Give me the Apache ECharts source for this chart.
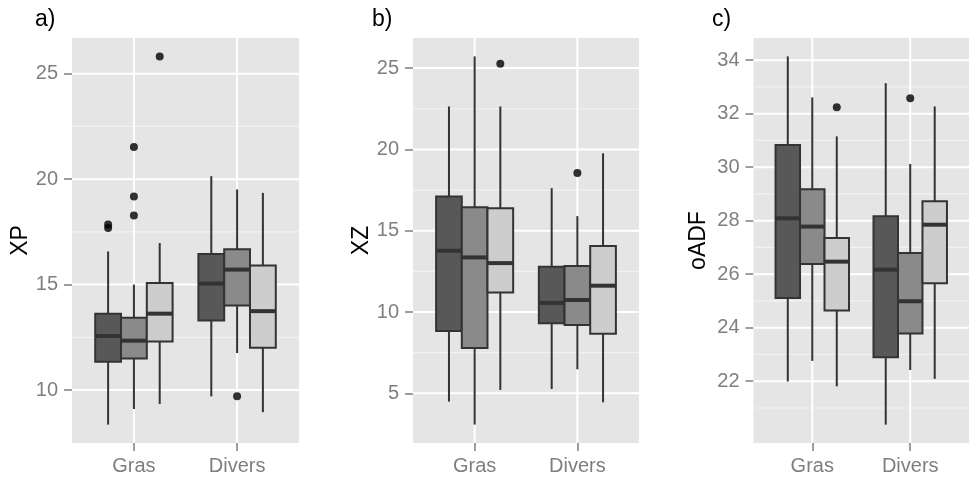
<!DOCTYPE html>
<html>
<head>
<meta charset="utf-8">
<script src="https://cdn.jsdelivr.net/npm/echarts@6/dist/echarts.min.js"></script>
<style>
html,body{margin:0;padding:0;background:#fff;}
#chart{width:969px;height:479px;}
</style>
</head>
<body>
<div id="chart"></div>
<script>
// ---------- data ----------
const categories = ['Gras', 'Divers'];
const groupColors = ['#585858', '#8A8A8A', '#CDCDCD'];

// stats per category: [min, q1, median, q3, max]
const xpDark  = [[8.36, 11.34, 12.56, 13.62, 16.57], [9.70, 13.30, 15.05, 16.45, 20.14]];
const xpMid   = [[9.10, 11.49, 12.34, 13.43, 15.00], [11.75, 14.01, 15.71, 16.68, 19.51]];
const xpLight = [[9.34, 12.30, 13.62, 15.08, 16.97], [8.95, 12.00, 13.74, 15.90, 19.35]];
// outliers: [categoryIndex, groupIndex, value]
const xpOutliers = [[0, 0, 17.85], [0, 0, 17.68], [0, 1, 21.52], [0, 1, 19.18], [0, 1, 18.27], [0, 2, 25.82], [1, 1, 9.70]];
const xpTicks = [10, 15, 20, 25];
const xpMinor = [12.5, 17.5, 22.5];

const xzDark  = [[4.49, 8.84, 13.77, 17.11, 22.64], [5.27, 9.31, 10.56, 12.79, 17.62]];
const xzMid   = [[3.08, 7.79, 13.36, 16.44, 25.72], [6.48, 9.20, 10.74, 12.83, 15.90]];
const xzLight = [[5.21, 11.21, 13.01, 16.39, 22.64], [4.45, 8.67, 11.62, 14.06, 19.76]];
const xzOutliers = [[0, 2, 25.27], [1, 1, 18.55]];
const xzTicks = [5, 10, 15, 20, 25];
const xzMinor = [7.5, 12.5, 17.5, 22.5];

const adfDark  = [[21.99, 25.11, 28.09, 30.83, 34.14], [20.38, 22.90, 26.17, 28.17, 33.14]];
const adfMid   = [[22.76, 26.38, 27.78, 29.18, 32.61], [22.42, 23.78, 24.99, 26.79, 30.12]];
const adfLight = [[21.81, 24.64, 26.47, 27.35, 31.15], [22.09, 25.66, 27.85, 28.73, 32.27]];
const adfOutliers = [[0, 2, 32.24], [1, 1, 32.58]];
const adfTicks = [22, 24, 26, 28, 30, 32, 34];
const adfMinor = [21, 23, 25, 27, 29, 31, 33];

const panelTitles = ['a)', 'b)', 'c)'];
const yNames = ['XP', 'XZ', 'oADF'];

// ---------- layout ----------
const panels = [
  {groups: [xpDark, xpMid, xpLight], outliers: xpOutliers, ticks: xpTicks, minor: xpMinor,
   grid: {left: 72, top: 38, width: 227, height: 405}, titleLeft: 35, nameGap: 40},
  {groups: [xzDark, xzMid, xzLight], outliers: xzOutliers, ticks: xzTicks, minor: xzMinor,
   grid: {left: 413, top: 38, width: 226, height: 405}, titleLeft: 372, nameGap: 40},
  {groups: [adfDark, adfMid, adfLight], outliers: adfOutliers, ticks: adfTicks, minor: adfMinor,
   grid: {left: 753.5, top: 38, width: 227, height: 405}, titleLeft: 712, nameGap: 43}
];

const DODGE = 0.25;
const FONT = 'Liberation Sans, Arial, Helvetica, sans-serif';
const LINE = '#333333';

function groupX(cat, g) { return cat + 1 + (g - 1) * DODGE; }

function renderBox(params, api) {
  const x = api.value(0);
  const half = DODGE / 2;
  const pMin = api.coord([x, api.value(1)]);
  const pQ1 = api.coord([x, api.value(2)]);
  const pMed = api.coord([x, api.value(3)]);
  const pQ3 = api.coord([x, api.value(4)]);
  const pMax = api.coord([x, api.value(5)]);
  const xl = api.coord([x - half, api.value(3)])[0];
  const xr = api.coord([x + half, api.value(3)])[0];
  const fill = api.visual('color');
  return {
    type: 'group',
    children: [
      {type: 'line', shape: {x1: pQ3[0], y1: pQ3[1], x2: pMax[0], y2: pMax[1]}, style: {stroke: LINE, lineWidth: 2}},
      {type: 'line', shape: {x1: pQ1[0], y1: pQ1[1], x2: pMin[0], y2: pMin[1]}, style: {stroke: LINE, lineWidth: 2}},
      {type: 'rect', shape: {x: xl, y: pQ3[1], width: xr - xl, height: pQ1[1] - pQ3[1]}, style: {fill: fill, stroke: LINE, lineWidth: 2}},
      {type: 'line', shape: {x1: xl, y1: pMed[1], x2: xr, y2: pMed[1]}, style: {stroke: LINE, lineWidth: 4}}
    ]
  };
}

function renderHLine(params, api) {
  const cs = params.coordSys;
  const y = api.coord([1, api.value(1)])[1];
  const major = api.value(2) === 1;
  return {type: 'line', shape: {x1: cs.x, y1: y, x2: cs.x + cs.width, y2: y},
          style: {stroke: major ? '#FFFFFF' : '#F2F2F2', lineWidth: major ? 2 : 1.2}};
}
function renderVLine(params, api) {
  const cs = params.coordSys;
  const x = api.coord([api.value(0), api.value(1)])[0];
  return {type: 'line', shape: {x1: x, y1: cs.y, x2: x, y2: cs.y + cs.height},
          style: {stroke: '#FFFFFF', lineWidth: 2}};
}

const option = {animation: false, title: [], grid: [], xAxis: [], yAxis: [], series: []};

panels.forEach((p, i) => {
  // extent like ggplot: data range expanded by 5%
  let lo = Infinity, hi = -Infinity;
  p.groups.forEach(g => g.forEach(s => { lo = Math.min(lo, s[0]); hi = Math.max(hi, s[4]); }));
  p.outliers.forEach(o => { lo = Math.min(lo, o[2]); hi = Math.max(hi, o[2]); });
  const pad = (hi - lo) * 0.05;

  option.title.push({text: panelTitles[i], left: p.titleLeft, top: 8, padding: 0,
    textStyle: {fontFamily: FONT, fontSize: 23, fontWeight: 'normal', color: '#000'}});
  option.grid.push(Object.assign({show: true, backgroundColor: '#E5E5E5', borderWidth: 0}, p.grid));
  option.xAxis.push({
    type: 'value', gridIndex: i, min: 0.4, max: 2.6,
    axisLine: {show: false}, splitLine: {show: false},
    axisTick: {show: true, customValues: [1, 2], length: 8, lineStyle: {color: '#7F7F7F', width: 1.5}},
    axisLabel: {show: true, customValues: [1, 2], margin: 13, color: '#7F7F7F', fontSize: 20, fontFamily: FONT,
      formatter: v => categories[Math.round(v) - 1] || ''}
  });
  option.yAxis.push({
    type: 'value', gridIndex: i, min: lo - pad, max: hi + pad,
    name: yNames[i], nameLocation: 'middle', nameGap: p.nameGap,
    nameTextStyle: {fontFamily: FONT, fontSize: 23, color: '#000'},
    axisLine: {show: false}, splitLine: {show: false},
    axisTick: {show: true, customValues: p.ticks, length: 8, lineStyle: {color: '#7F7F7F', width: 1.5}},
    axisLabel: {show: true, customValues: p.ticks, margin: 14, color: '#7F7F7F', fontSize: 20, fontFamily: FONT}
  });
  // grid lines
  const hData = p.minor.map(v => [1, v, 0]).concat(p.ticks.map(v => [1, v, 1]));
  option.series.push({type: 'custom', xAxisIndex: i, yAxisIndex: i, z: 1, silent: true,
    renderItem: renderHLine, encode: {x: 0, y: 1}, data: hData});
  option.series.push({type: 'custom', xAxisIndex: i, yAxisIndex: i, z: 1, silent: true,
    renderItem: renderVLine, encode: {x: 0, y: 1}, data: categories.map((c, k) => [k + 1, p.ticks[0]])});
  // boxes
  p.groups.forEach((stats, g) => {
    option.series.push({
      type: 'custom', xAxisIndex: i, yAxisIndex: i, z: 3, silent: true,
      itemStyle: {color: groupColors[g]},
      renderItem: renderBox, encode: {x: 0, y: [1, 2, 3, 4, 5]},
      data: stats.map((s, c) => [groupX(c, g)].concat(s))
    });
  });
  // outliers
  option.series.push({
    type: 'scatter', xAxisIndex: i, yAxisIndex: i, z: 5, silent: true,
    symbol: 'circle', symbolSize: 8, itemStyle: {color: '#000'},
    data: p.outliers.map(o => [groupX(o[0], o[1]), o[2]])
  });
});

const chart = echarts.init(document.getElementById('chart'), null, {renderer: 'canvas'});
chart.setOption(option);
</script>
</body>
</html>
